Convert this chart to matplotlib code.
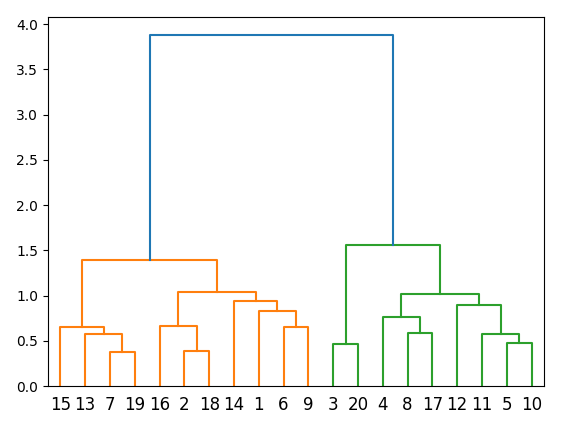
import matplotlib
matplotlib.use("Agg")
import matplotlib.pyplot as plt

# leaf order as shown along the bottom
leaves = [15, 13, 7, 19, 16, 2, 18, 14, 1, 6, 9, 3, 20, 4, 8, 17, 12, 11, 5, 10]

# merges: (left child, right child, height); ints are leaves, "mN" refers to merge N
merge_left = [7, 13, 15, 2, 16, 6, 1, 14, "m4", "m2",
              3, 8, 4, 5, 11, 12, "m12", "m10", "m9"]
merge_right = [19, "m0", "m1", 18, "m3", 9, "m5", "m6", "m7", "m8",
               20, 17, "m11", 10, "m13", "m14", "m15", "m16", "m17"]
merge_height = [0.376, 0.575, 0.652, 0.39, 0.663, 0.652, 0.832, 0.943, 1.039, 1.392,
                0.464, 0.586, 0.762, 0.475, 0.575, 0.895, 1.02, 1.558, 3.885]

threshold = 0.7 * max(merge_height)

leaf_x = {lab: 5 + 10 * i for i, lab in enumerate(leaves)}
node_x = {}
node_h = {}
node_col = {}


def pos(n):
    if isinstance(n, int):
        return leaf_x[n], 0.0
    return node_x[n], node_h[n]


# assign cluster colours: each sub-threshold top cluster gets the next colour
palette = ["C1", "C2", "C3", "C4"]
groups = []
for k in range(len(merge_height)):
    node_x["m%d" % k] = (pos(merge_left[k])[0] + pos(merge_right[k])[0]) / 2
    node_h["m%d" % k] = merge_height[k]

parent = {}
for k in range(len(merge_height)):
    parent[merge_left[k]] = "m%d" % k
    parent[merge_right[k]] = "m%d" % k

# top clusters under threshold ordered by x
tops = [("m%d" % k) for k in range(len(merge_height))
        if merge_height[k] < threshold and merge_height[int(parent.get("m%d" % k, "m%d" % k)[1:])] >= threshold]
tops.sort(key=lambda n: node_x[n])


def root_under(n):
    while n in parent and node_h.get(parent[n], 0) < threshold:
        n = parent[n]
    return n


top_colour = {t: palette[i] for i, t in enumerate(tops)}

fig = plt.figure(figsize=(5.66, 4.30), dpi=100)
ax = fig.add_axes([48 / 566, 44 / 430, 496 / 566, 369 / 430])

for k in range(len(merge_height)):
    name = "m%d" % k
    xl, hl = pos(merge_left[k])
    xr, hr = pos(merge_right[k])
    h = merge_height[k]
    if h >= threshold:
        col = "C0"
    else:
        col = top_colour.get(root_under(name), "C0")
    ax.plot([xl, xl, xr, xr], [hl, h, h, hr], color=col)

ax.set_xlim(0, 10 * len(leaves))
ax.set_ylim(0, 1.05 * max(merge_height))
ax.set_xticks([leaf_x[l] for l in leaves])
ax.set_xticklabels([str(l) for l in leaves], fontsize=12)
for line in ax.get_xticklines():
    line.set_visible(False)

fig.savefig("out.png", dpi=100)
